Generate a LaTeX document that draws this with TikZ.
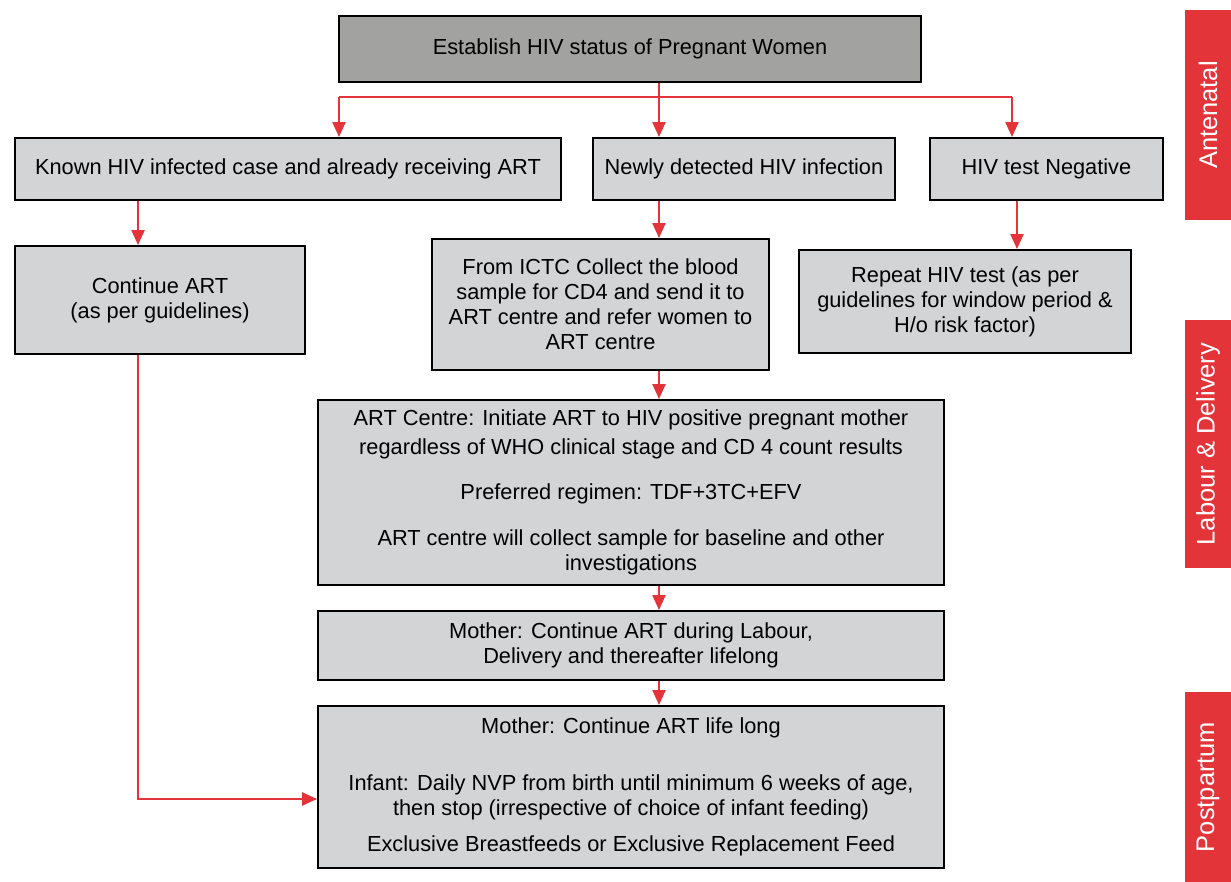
\documentclass[tikz,border=0pt]{standalone}
\usepackage{fontspec}
\setmainfont{Liberation Sans}
\usetikzlibrary{arrows.meta,calc}
\definecolor{boxgray}{HTML}{D3D4D6}
\definecolor{topgray}{HTML}{A2A2A0}
\definecolor{flowred}{HTML}{E3343A}
\begin{document}
\begin{tikzpicture}[x=0.02cm, y=-0.02cm,
    box/.style={draw=black, line width=1.1pt, fill=boxgray, align=center, inner sep=2pt,
        font=\fontsize{12.4}{14.3}\selectfont},
    arr/.style={draw=flowred, line width=1.3pt, -{Triangle[length=0.3cm,width=0.26cm]}},
    ln/.style={draw=flowred, line width=1.3pt},
    band/.style={fill=flowred, text=white, rotate=90, inner sep=0pt,
        font=\fontsize{14.5}{16}\selectfont}]
\useasboundingbox (0,0) rectangle (1231,882);

% top row
\node[box, fill=topgray, minimum width=11.64cm, minimum height=1.32cm] (top) at (630,49)
    {Establish HIV status of Pregnant Women};

% second row
\node[box, minimum width=10.92cm, minimum height=1.24cm] (known) at (288,169)
    {Known HIV infected case and already receiving ART};
\node[box, minimum width=6.04cm, minimum height=1.24cm] (newly) at (744,169)
    {Newly detected HIV infection};
\node[box, minimum width=4.66cm, minimum height=1.24cm] (neg) at (1046.5,169)
    {HIV test Negative};

% third row
\node[box, minimum width=5.8cm, minimum height=2.16cm] (cont) at (160,300)
    {Continue ART\\(as per guidelines)};
\node[box, minimum width=6.74cm, minimum height=2.62cm] (ictc) at (600.5,304.5)
    {From ICTC Collect the blood\\sample for CD4 and send it to\\ART centre and refer women to\\ART centre};
\node[box, minimum width=6.64cm, minimum height=2.06cm] (rep) at (965,301.5)
    {Repeat HIV test (as per\\guidelines for window period \&\\H/o risk factor)};

% lower column
\node[box, minimum width=12.52cm, minimum height=3.7cm] (artc) at (631,492.5)
    {ART Centre: Initiate ART to HIV positive pregnant mother\\[0.06cm]
     regardless of WHO clinical stage and CD 4 count results\\[0.4cm]
     Preferred regimen: TDF+3TC+EFV\\[0.42cm]
     ART centre will collect sample for baseline and other\\investigations};
\node[box, minimum width=12.52cm, minimum height=1.38cm] (moth) at (631,645.5)
    {Mother: Continue ART during Labour,\\Delivery and thereafter lifelong};
\node[box, minimum width=12.52cm, minimum height=3.24cm] (fin) at (631,787)
    {Mother: Continue ART life long\\[0.62cm]
     Infant: Daily NVP from birth until minimum 6 weeks of age,\\then stop (irrespective of choice of infant feeding)\\[0.22cm]
     Exclusive Breastfeeds or Exclusive Replacement Feed};

% phase bands
\foreach \y/\h/\name/\txt in {115/4.2/ant/Antenatal, 444/4.96/lab/{Labour \& Delivery}, 787/3.8/post/Postpartum}
{
    \node[band, minimum width=\h cm, minimum height=0.92cm] (\name) at (1208,\y) {\txt};
}

% connectors
\coordinate (sp) at (659,97);
\coordinate (bl) at (339,97);
\coordinate (br) at (1012,97);
\coordinate (lft) at (138,0);
\coordinate (rgt) at (1017,0);
\coordinate (finin) at ($(fin.west)+(0,12)$);
\draw[ln] (sp |- top.south) -- (sp);
\draw[ln] (bl) -- (br);
\draw[arr] (bl) -- (bl |- known.north);
\draw[arr] (sp) -- (sp |- newly.north);
\draw[arr] (br) -- (br |- neg.north);
\draw[arr] (lft |- known.south) -- (lft |- cont.north);
\draw[arr] (sp |- newly.south) -- (sp |- ictc.north);
\draw[arr] (rgt |- neg.south) -- (rgt |- rep.north);
\draw[arr] (sp |- ictc.south) -- (sp |- artc.north);
\draw[arr] (sp |- artc.south) -- (sp |- moth.north);
\draw[arr] (sp |- moth.south) -- (sp |- fin.north);
\draw[arr] (lft |- cont.south) |- (finin);
\end{tikzpicture}
\end{document}
